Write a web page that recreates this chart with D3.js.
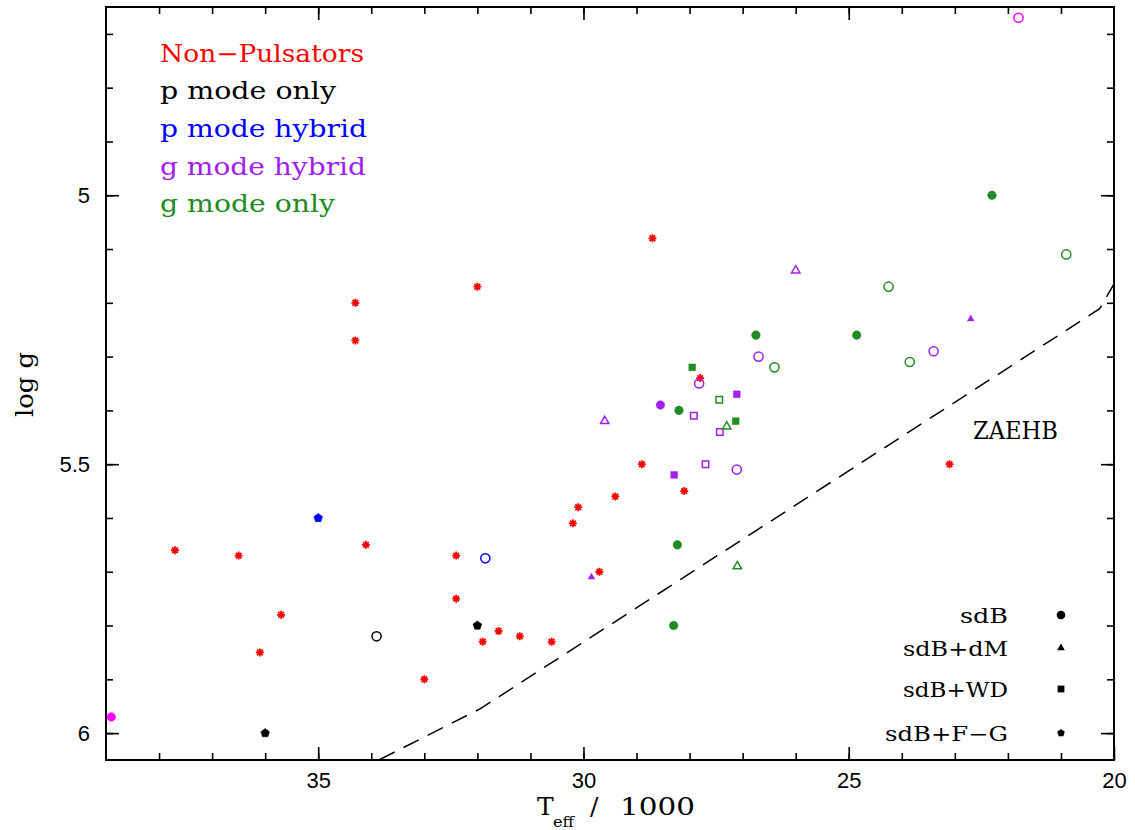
<!DOCTYPE html>
<html>
<head>
<meta charset="utf-8">
<script src="https://cdn.jsdelivr.net/npm/d3@7"></script>
<style>
  body { margin: 0; background: #fff; }
  svg { display: block; }
</style>
</head>
<body>
<div id="wrapper"></div>
<script>
// each star: [Teff / 1000, log g, companion, filled]
// companion: sdB = single, dM, WD, FG = F-G
const nonPulsators = [
  [28.7, 5.08], [34.3, 5.2], [32.0, 5.17], [34.3, 5.27], [37.7, 5.66],
  [36.5, 5.67], [34.1, 5.65], [32.4, 5.67], [32.4, 5.75], [35.7, 5.78],
  [36.1, 5.85], [33.0, 5.9], [31.9, 5.83], [31.6, 5.81], [31.2, 5.82],
  [30.6, 5.83], [30.2, 5.61], [30.1, 5.58], [29.7, 5.7], [29.4, 5.56],
  [28.9, 5.5], [28.1, 5.55], [27.8, 5.34], [23.1, 5.5],
]
const pModeOnly = [
  [33.9, 5.82, 'sdB', false], [32.0, 5.8, 'FG', true], [36.0, 6.0, 'FG', true],
]
const pModeHybrid = [
  [35.0, 5.6, 'FG', true], [31.85, 5.675, 'sdB', false],
]
const gModeHybrid = [
  [29.85, 5.71, 'dM', true], [29.6, 5.42, 'dM', false], [28.55, 5.39, 'sdB', true],
  [27.82, 5.35, 'sdB', false], [27.92, 5.41, 'WD', false], [27.43, 5.44, 'WD', false],
  [27.7, 5.5, 'WD', false], [28.29, 5.52, 'WD', true], [27.11, 5.37, 'WD', true],
  [27.11, 5.51, 'sdB', false], [26.7, 5.3, 'sdB', false], [26.0, 5.14, 'dM', false],
  [22.7, 5.23, 'dM', true], [23.4, 5.29, 'sdB', false],
]
const gModeOnly = [
  [22.3, 5.0, 'sdB', true], [20.9, 5.11, 'sdB', false], [24.25, 5.17, 'sdB', false],
  [26.75, 5.26, 'sdB', true], [24.85, 5.26, 'sdB', true], [26.4, 5.32, 'sdB', false],
  [23.85, 5.31, 'sdB', false], [27.95, 5.32, 'WD', true], [27.44, 5.38, 'WD', false],
  [27.13, 5.42, 'WD', true], [27.3, 5.43, 'dM', false], [28.2, 5.4, 'sdB', true],
  [28.23, 5.65, 'sdB', true], [27.1, 5.69, 'dM', false], [28.3, 5.8, 'sdB', true],
]
const otherStars = [
  [38.9, 5.97, 'sdB', true], [21.8, 4.67, 'sdB', false],
]
// zero-age extreme horizontal branch
const zaehb = [[34.3, 6.072], [31.95, 5.955], [20.27, 5.211], [20.0, 5.165]]

const xTicks = [35, 30, 25, 20]
const yTicks = [5, 5.5, 6]
const classLabels = ['Non\u2212Pulsators', 'p mode only', 'p mode hybrid', 'g mode hybrid', 'g mode only']
const classColors = ['#ff0000', '#000000', '#0000ff', '#a020f0', '#228b22']
const companionLabels = ['sdB', 'sdB+dM', 'sdB+WD', 'sdB+F\u2212G']
const companionKeys = ['sdB', 'dM', 'WD', 'FG']

const width = 1135
const height = 830
const margin = { left: 106, right: 21, top: 7, bottom: 70 }
const serif = "'DejaVu Serif', serif"
const sans = "'Liberation Sans', Arial, sans-serif"

const svg = d3.select('#wrapper').append('svg')
  .attr('width', width).attr('height', height)

const xScale = d3.scaleLinear().domain([39, 20]).range([margin.left, width - margin.right])
const yScale = d3.scaleLinear().domain([4.65, 6.05]).range([margin.top, height - margin.bottom])
const [x0, x1] = xScale.range()
const [y0, y1] = yScale.range()

// symbols
const pentagon = {
  draw(ctx, size) {
    const r = Math.sqrt(size / 2.378)
    for (let i = 0; i < 5; i++) {
      const a = -Math.PI / 2 + (i * 2 * Math.PI) / 5
      if (i) ctx.lineTo(r * Math.cos(a), r * Math.sin(a))
      else ctx.moveTo(r * Math.cos(a), r * Math.sin(a))
    }
    ctx.closePath()
  },
}
const asterisk = {
  draw(ctx, size) {
    const r = Math.sqrt(size) / 2
    for (let k = 0; k < 4; k++) {
      const a = (k * Math.PI) / 4
      ctx.moveTo(r * Math.cos(a), r * Math.sin(a))
      ctx.lineTo(-r * Math.cos(a), -r * Math.sin(a))
    }
  },
}
const symbolType = { sdB: d3.symbolCircle, dM: d3.symbolTriangle, WD: d3.symbolSquare, FG: pentagon }
const filledSize = { sdB: 58, dM: 20, WD: 46, FG: 50 }
const openSize = { sdB: 66, dM: 31, WD: 42, FG: 50 }

const clip = svg.append('defs').append('clipPath').attr('id', 'plot-clip')
  .append('rect').attr('x', x0).attr('y', y0).attr('width', x1 - x0).attr('height', y1 - y0)

// axes (ticks inside on all four sides)
const axisStyle = (g) => {
  g.select('.domain').remove()
  g.selectAll('.tick line').attr('stroke', '#000').attr('stroke-width', 1.6)
  g.selectAll('.tick text').attr('fill', '#000')
}
const xMinor = d3.range(21, 39)
const yMinor = d3.range(47, 61).map((d) => d / 10)

svg.append('g').attr('transform', `translate(0,${y1})`)
  .call(d3.axisBottom(xScale).tickValues(xMinor).tickSize(-7).tickFormat(''))
  .call(axisStyle)
svg.append('g').attr('transform', `translate(0,${y1})`)
  .call(d3.axisBottom(xScale).tickValues(xTicks).tickSize(-13).tickPadding(12).tickFormat(d3.format('d')))
  .call(axisStyle)
  .attr('font-family', sans).attr('font-size', 22)
svg.append('g').attr('transform', `translate(0,${y0})`)
  .call(d3.axisTop(xScale).tickValues(xMinor).tickSize(-7).tickFormat(''))
  .call(axisStyle)
svg.append('g').attr('transform', `translate(0,${y0})`)
  .call(d3.axisTop(xScale).tickValues(xTicks.slice(0, 3)).tickSize(-13).tickFormat(''))
  .call(axisStyle)

svg.append('g').attr('transform', `translate(${x0},0)`)
  .call(d3.axisLeft(yScale).tickValues(yMinor).tickSize(-7).tickFormat(''))
  .call(axisStyle)
svg.append('g').attr('transform', `translate(${x0},0)`)
  .call(d3.axisLeft(yScale).tickValues(yTicks).tickSize(-13).tickPadding(16).tickFormat((d) => d))
  .call(axisStyle)
  .attr('font-family', sans).attr('font-size', 22)
svg.append('g').attr('transform', `translate(${x1},0)`)
  .call(d3.axisRight(yScale).tickValues(yMinor).tickSize(-7).tickFormat(''))
  .call(axisStyle)
svg.append('g').attr('transform', `translate(${x1},0)`)
  .call(d3.axisRight(yScale).tickValues(yTicks).tickSize(-13).tickFormat(''))
  .call(axisStyle)

svg.append('rect')
  .attr('x', x0).attr('y', y0).attr('width', x1 - x0).attr('height', y1 - y0)
  .attr('fill', 'none').attr('stroke', '#000').attr('stroke-width', 2)

// axis titles
svg.append('text')
  .attr('transform', `translate(33,${(y0 + y1) / 2 + 1}) rotate(-90)`)
  .attr('text-anchor', 'middle')
  .attr('font-family', serif).attr('font-size', 24)
  .attr('textLength', 65).attr('lengthAdjust', 'spacingAndGlyphs')
  .text('log g')

const xTitle = svg.append('g').attr('font-family', serif).attr('fill', '#000')
xTitle.append('text').attr('x', 537).attr('y', 815).attr('font-size', 25).text('T')
xTitle.append('text').attr('x', 553).attr('y', 827).attr('font-size', 15)
  .attr('textLength', 21).attr('lengthAdjust', 'spacingAndGlyphs').text('eff')
xTitle.append('text').attr('x', 590).attr('y', 815).attr('font-size', 25).text('/')
xTitle.append('text').attr('x', 620).attr('y', 815).attr('font-size', 25)
  .attr('textLength', 75).attr('lengthAdjust', 'spacingAndGlyphs').text('1000')

// ZAEHB line
const plot = svg.append('g').attr('clip-path', 'url(#plot-clip)')
plot.append('path')
  .datum(zaehb)
  .attr('fill', 'none').attr('stroke', '#000').attr('stroke-width', 1.5)
  .attr('stroke-dasharray', '17,10')
  .attr('d', d3.line().x((d) => xScale(d[0])).y((d) => yScale(d[1])))

svg.append('text')
  .attr('x', 973).attr('y', 439)
  .attr('font-family', serif).attr('font-size', 24)
  .attr('textLength', 85).attr('lengthAdjust', 'spacingAndGlyphs')
  .text('ZAEHB')

// stars
const drawStars = (data, color) => {
  plot.append('g').selectAll('path')
    .data(data)
    .join('path')
    .attr('transform', (d) => `translate(${xScale(d[0])},${yScale(d[1])})`)
    .attr('d', (d) => d3.symbol(symbolType[d[2]], d[3] ? filledSize[d[2]] : openSize[d[2]])())
    .attr('fill', (d) => (d[3] ? color : 'none'))
    .attr('stroke', color)
    .attr('stroke-width', (d) => (d[3] ? 0.5 : 1.5))
}

plot.append('g').selectAll('path')
  .data(nonPulsators)
  .join('path')
  .attr('transform', (d) => `translate(${xScale(d[0])},${yScale(d[1])})`)
  .attr('d', d3.symbol(asterisk, 64))
  .attr('fill', 'none').attr('stroke', classColors[0]).attr('stroke-width', 1.8)

drawStars(pModeOnly, classColors[1])
drawStars(pModeHybrid, classColors[2])
drawStars(gModeHybrid, classColors[3])
drawStars(gModeOnly, classColors[4])
drawStars(otherStars, '#ff00ff')

// class legend
const classWidths = [204, 176, 207, 206, 175]
svg.append('g').selectAll('text')
  .data(classLabels)
  .join('text')
  .attr('x', 160).attr('y', (d, i) => 61.7 + i * 37.6)
  .attr('fill', (d, i) => classColors[i])
  .attr('font-family', serif).attr('font-size', 24)
  .attr('textLength', (d, i) => classWidths[i]).attr('lengthAdjust', 'spacingAndGlyphs')
  .text((d) => d)

// companion legend
const compMarkY = [615, 648, 689, 733]
const compWidths = [48, 105, 105, 123]
const compSize = { sdB: 58, dM: 26, WD: 46, FG: 38 }
const compLegend = svg.append('g')
compLegend.selectAll('text')
  .data(companionLabels)
  .join('text')
  .attr('x', 1008).attr('y', (d, i) => compMarkY[i] + 7.5)
  .attr('text-anchor', 'end')
  .attr('font-family', serif).attr('font-size', 20)
  .attr('textLength', (d, i) => compWidths[i]).attr('lengthAdjust', 'spacingAndGlyphs')
  .text((d) => d)
compLegend.selectAll('path')
  .data(companionKeys)
  .join('path')
  .attr('transform', (d, i) => `translate(1061,${compMarkY[i]})`)
  .attr('d', (d) => d3.symbol(symbolType[d], compSize[d])())
  .attr('fill', '#000')
</script>
</body>
</html>
